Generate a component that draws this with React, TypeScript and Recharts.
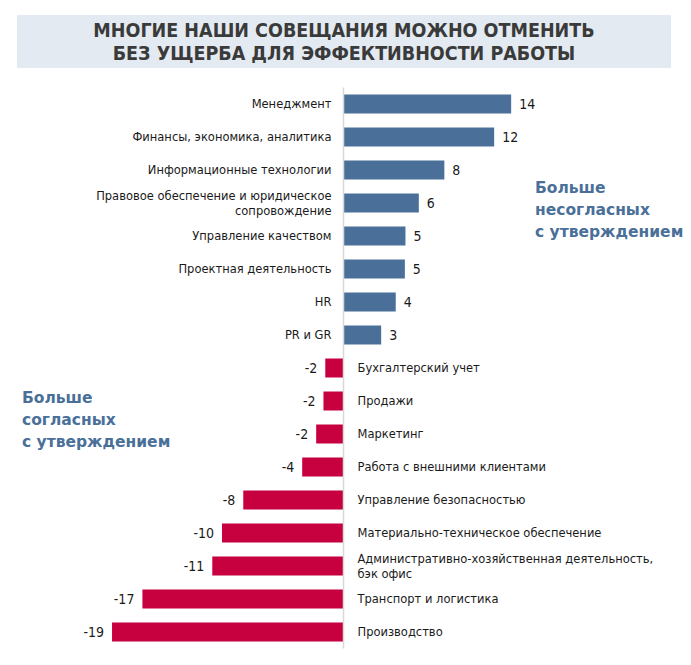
import React from 'react';
import { BarChart, Bar, XAxis, YAxis, ReferenceLine, LabelList, Cell } from 'recharts';

// Categories, top to bottom (\n marks the line break in the label)
const categories = [
    'Менеджмент',
    'Финансы, экономика, аналитика',
    'Информационные технологии',
    'Правовое обеспечение и юридическое\nсопровождение',
    'Управление качеством',
    'Проектная деятельность',
    'HR',
    'PR и GR',
    'Бухгалтерский учет',
    'Продажи',
    'Маркетинг',
    'Работа с внешними клиентами',
    'Управление безопасностью',
    'Материально-техническое обеспечение',
    'Административно-хозяйственная деятельность,\nбэк офис',
    'Транспорт и логистика',
    'Производство',
];

// Bar lengths
const barValues = [13.8, 12.4, 8.3, 6.2, 5.1, 5.05, 4.3, 3.1, -1.5, -1.65, -2.25, -3.4, -8.25, -10, -10.8, -16.55, -19.05];

// Numbers printed next to the bars
const valueLabels = ['14', '12', '8', '6', '5', '5', '4', '3', '-2', '-2', '-2', '-4', '-8', '-10', '-11', '-17', '-19'];

const titleLines = ['МНОГИЕ НАШИ СОВЕЩАНИЯ МОЖНО ОТМЕНИТЬ', 'БЕЗ УЩЕРБА ДЛЯ ЭФФЕКТИВНОСТИ РАБОТЫ'];
const disagreeNote = ['Больше', 'несогласных', 'с утверждением'];
const agreeNote = ['Больше', 'согласных', 'с утверждением'];

const BLUE = '#4A7099';
const RED = '#C7003F';
const FONT = '"DejaVu Sans", Verdana, sans-serif';
const NARROW = '"DejaVu Sans Condensed", "DejaVu Sans", sans-serif';

const data = categories.map((name, i) => ({ name, value: barValues[i], label: valueLabels[i] }));

// zero edge / far edge of a bar, whether or not recharts normalised a negative width
const zeroEdge = (x: number, width: number, v: number) =>
    v >= 0 ? Math.min(x, x + width) : Math.max(x, x + width);
const farEdge = (x: number, width: number, v: number) =>
    v >= 0 ? Math.max(x, x + width) : Math.min(x, x + width);

const CategoryLabel = (props: any) => {
    const { x, y, width, height, index } = props;
    const v = barValues[index];
    const zero = zeroEdge(Number(x), Number(width), v);
    const lines = categories[index].split('\n');
    const tx = v >= 0 ? zero - 12 : zero + 14;
    const lineH = 15;
    const cy = Number(y) + Number(height) / 2 - ((lines.length - 1) * lineH) / 2;
    return (
        <text
            x={tx}
            y={cy}
            textAnchor={v >= 0 ? 'end' : 'start'}
            dominantBaseline="central"
            fontFamily={FONT}
            fontSize={11.5}
            fill="#1a1a1a"
        >
            {lines.map((l, i) => (
                <tspan key={i} x={tx} dy={i === 0 ? 0 : lineH}>{l}</tspan>
            ))}
        </text>
    );
};

const ValueLabel = (props: any) => {
    const { x, y, width, height, index } = props;
    const v = barValues[index];
    const end = farEdge(Number(x), Number(width), v);
    return (
        <text
            x={v >= 0 ? end + 8 : end - 8}
            y={Number(y) + Number(height) / 2}
            textAnchor={v >= 0 ? 'start' : 'end'}
            dominantBaseline="central"
            fontFamily={NARROW}
            fontSize={14}
            fill="#1a1a1a"
        >
            {valueLabels[index]}
        </text>
    );
};

const Note = ({ lines, left, top }: { lines: string[]; left: number; top: number }) => (
    <div
        style={{
            position: 'absolute',
            left,
            top,
            color: BLUE,
            fontFamily: FONT,
            fontWeight: 'bold',
            fontSize: 15.5,
            lineHeight: '22px',
            whiteSpace: 'nowrap',
        }}
    >
        {lines.map((l, i) => (
            <div key={i}>{l}</div>
        ))}
    </div>
);

export default function App() {
    return (
        <div style={{ position: 'absolute', left: 0, top: 0, width: 691, height: 665, background: '#fff', overflow: 'hidden' }}>
            <div
                style={{
                    position: 'absolute',
                    left: 17,
                    top: 15,
                    width: 654,
                    height: 53,
                    background: '#E3EAF1',
                    display: 'flex',
                    flexDirection: 'column',
                    justifyContent: 'center',
                    alignItems: 'center',
                    fontFamily: NARROW,
                    fontWeight: 'bold',
                    fontSize: 19.5,
                    lineHeight: '23px',
                    color: '#3a3a3a',
                }}
            >
                {titleLines.map((l, i) => (
                    <div key={i}>{l}</div>
                ))}
            </div>

            <div style={{ position: 'absolute', left: 0, top: 0 }}>
                <BarChart
                    width={691}
                    height={665}
                    layout="vertical"
                    data={data}
                    margin={{ top: 87.5, bottom: 16.5, left: 100.5, right: 104.5 }}
                >
                    <XAxis type="number" domain={[-20, 20]} hide />
                    <YAxis type="category" dataKey="name" hide />
                    <ReferenceLine x={0} stroke="#D9D9D9" strokeWidth={1.5} />
                    <Bar dataKey="value" barSize={19} isAnimationActive={false}>
                        {data.map((d, i) => (
                            <Cell key={i} fill={d.value >= 0 ? BLUE : RED} />
                        ))}
                        <LabelList dataKey="name" content={<CategoryLabel />} />
                        <LabelList dataKey="label" content={<ValueLabel />} />
                    </Bar>
                </BarChart>
            </div>

            <Note lines={disagreeNote} left={535} top={177} />
            <Note lines={agreeNote} left={22} top={387} />
        </div>
    );
}
